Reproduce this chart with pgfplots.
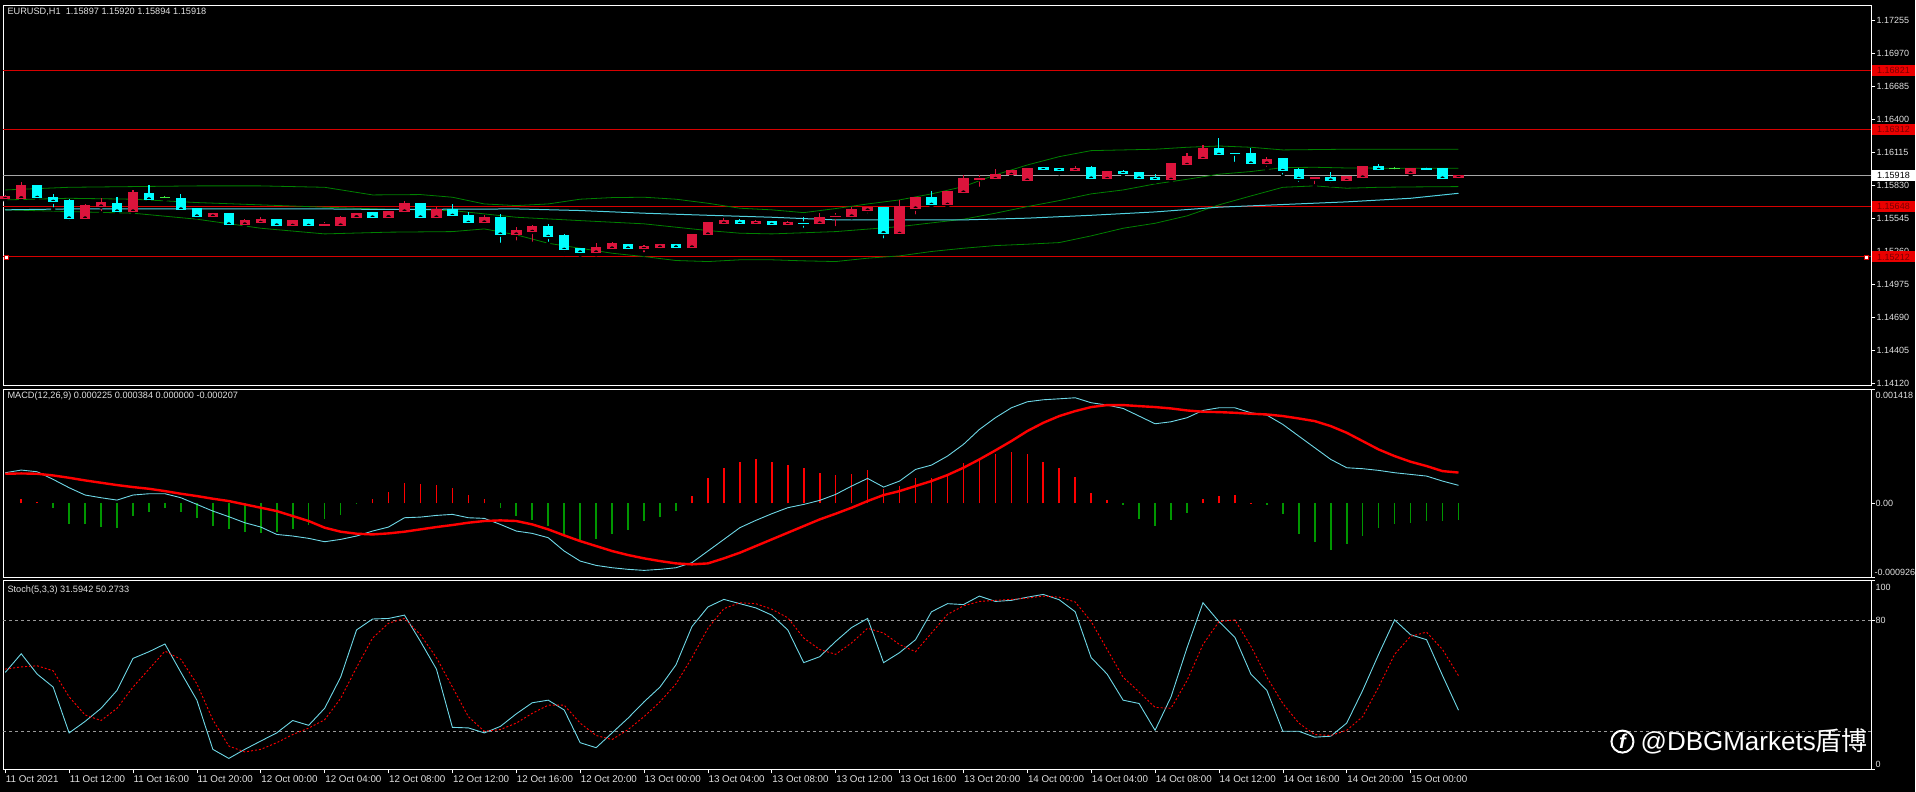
\documentclass[border=0pt]{standalone}
\usepackage{pgfplots}
\pgfplotsset{compat=1.18}
\usepackage{pgfplotstable}
\usetikzlibrary{calc}
\usepackage{fontspec}
\setmainfont{Liberation Sans}
\newfontfamily\cjk{Noto Sans CJK SC}
\definecolor{bull}{RGB}{220,20,60}
\definecolor{bear}{RGB}{0,255,255}
\definecolor{doji}{RGB}{60,230,60}
\definecolor{band}{RGB}{0,128,0}
\definecolor{ma}{RGB}{80,210,225}
\definecolor{hline}{RGB}{215,0,0}
\definecolor{lbl}{RGB}{225,225,225}
\definecolor{macdc}{RGB}{110,215,230}
\definecolor{histr}{RGB}{255,0,0}
\definecolor{histg}{RGB}{0,150,0}
\definecolor{boxred}{RGB}{235,0,0}
\definecolor{boxtxt}{RGB}{120,0,0}
\tikzset{rlab/.style={text=lbl, font=\fontsize{9}{10}\selectfont, inner sep=1pt}}

\pgfplotstableread{
x o h l c
0 1.15714 1.15748 1.15705 1.15737
1 1.15719 1.15863 1.15705 1.15826
5 1.15544 1.15667 1.15526 1.15659
6 1.15647 1.15722 1.15590 1.15679
8 1.15604 1.15791 1.15595 1.15765
13 1.15561 1.15595 1.15555 1.15590
15 1.15492 1.15541 1.15483 1.15523
16 1.15506 1.15555 1.15489 1.15535
18 1.15480 1.15532 1.15469 1.15523
20 1.15486 1.15518 1.15460 1.15492
21 1.15483 1.15567 1.15477 1.15555
22 1.15555 1.15595 1.15547 1.15590
24 1.15555 1.15613 1.15549 1.15607
25 1.15604 1.15696 1.15598 1.15676
27 1.15552 1.15647 1.15547 1.15619
30 1.15509 1.15575 1.15486 1.15555
32 1.15405 1.15469 1.15336 1.15437
33 1.15428 1.15486 1.15325 1.15477
37 1.15250 1.15336 1.15235 1.15290
38 1.15284 1.15342 1.15279 1.15325
40 1.15287 1.15316 1.15235 1.15302
41 1.15293 1.15325 1.15287 1.15316
43 1.15293 1.15414 1.15287 1.15408
44 1.15405 1.15512 1.15394 1.15506
45 1.15500 1.15547 1.15495 1.15523
47 1.15498 1.15529 1.15492 1.15521
49 1.15489 1.15523 1.15460 1.15506
51 1.15500 1.15593 1.15480 1.15555
52 1.15558 1.15595 1.15460 1.15564
53 1.15561 1.15647 1.15555 1.15619
54 1.15613 1.15644 1.15570 1.15639
56 1.15411 1.15705 1.15394 1.15647
57 1.15630 1.15734 1.15561 1.15728
59 1.15662 1.15783 1.15656 1.15774
60 1.15768 1.15918 1.15762 1.15886
61 1.15883 1.15921 1.15800 1.15889
62 1.15886 1.15970 1.15872 1.15927
63 1.15921 1.15961 1.15906 1.15955
64 1.15872 1.15984 1.15866 1.15978
67 1.15955 1.16002 1.15950 1.15978
69 1.15886 1.15953 1.15878 1.15947
73 1.15878 1.16022 1.15872 1.16016
74 1.16007 1.16108 1.15993 1.16076
75 1.16059 1.16180 1.16053 1.16151
79 1.16019 1.16079 1.15973 1.16056
82 1.15889 1.15906 1.15823 1.15901
84 1.15869 1.15915 1.15835 1.15904
85 1.15898 1.15993 1.15892 1.15990
88 1.15932 1.15984 1.15909 1.15973
91 1.15897 1.15920 1.15894 1.15918
}\bulltab

\pgfplotstableread{
x o h l c
2 1.15826 1.15835 1.15699 1.15722
3 1.15728 1.15757 1.15624 1.15688
4 1.15696 1.15711 1.15509 1.15544
7 1.15676 1.15728 1.15584 1.15604
9 1.15762 1.15835 1.15705 1.15708
11 1.15714 1.15757 1.15613 1.15622
12 1.15627 1.15639 1.15555 1.15561
14 1.15590 1.15595 1.15489 1.15492
17 1.15532 1.15541 1.15474 1.15483
19 1.15532 1.15538 1.15457 1.15480
23 1.15593 1.15598 1.15544 1.15552
26 1.15676 1.15682 1.15544 1.15552
28 1.15622 1.15667 1.15561 1.15567
29 1.15572 1.15604 1.15498 1.15506
31 1.15555 1.15581 1.15316 1.15405
34 1.15477 1.15498 1.15325 1.15385
35 1.15394 1.15408 1.15238 1.15273
36 1.15282 1.15290 1.15232 1.15250
39 1.15322 1.15328 1.15279 1.15284
42 1.15316 1.15319 1.15290 1.15293
46 1.15523 1.15538 1.15492 1.15498
48 1.15521 1.15526 1.15460 1.15489
50 1.15503 1.15555 1.15446 1.15500
55 1.15636 1.15641 1.15354 1.15417
58 1.15728 1.15783 1.15656 1.15662
65 1.15981 1.15993 1.15950 1.15964
66 1.15973 1.15978 1.15935 1.15955
68 1.15981 1.16002 1.15883 1.15889
70 1.15947 1.15964 1.15906 1.15932
71 1.15938 1.15944 1.15883 1.15889
72 1.15898 1.15927 1.15863 1.15878
76 1.16151 1.16243 1.16079 1.16094
77 1.16108 1.16122 1.16016 1.16105
78 1.16102 1.16151 1.16013 1.16019
80 1.16059 1.16071 1.15906 1.15955
81 1.15964 1.15978 1.15843 1.15886
83 1.15901 1.15947 1.15835 1.15872
86 1.15990 1.16016 1.15947 1.15964
89 1.15973 1.15993 1.15947 1.15967
90 1.15976 1.15981 1.15883 1.15889
}\beartab

\pgfplotstableread{
x o h l c
10 1.15722 1.15742 1.15705 1.15722
87 1.15973 1.15993 1.15950 1.15973
}\dojitab

\pgfplotstableread{
x macd signal
0 0.000382 0.000369
1 0.000415 0.000373
2 0.000394 0.000369
3 0.000299 0.000348
4 0.000195 0.000319
5 0.000104 0.000286
6 0.000070 0.000257
7 0.000041 0.000228
8 0.000104 0.000203
9 0.000120 0.000182
10 0.000120 0.000153
11 0.000070 0.000120
12 -0.000013 0.000091
13 -0.000096 0.000058
14 -0.000166 0.000029
15 -0.000241 -0.000013
16 -0.000295 -0.000054
17 -0.000387 -0.000096
18 -0.000407 -0.000158
19 -0.000436 -0.000220
20 -0.000478 -0.000303
21 -0.000449 -0.000353
22 -0.000407 -0.000378
23 -0.000345 -0.000387
24 -0.000295 -0.000374
25 -0.000179 -0.000353
26 -0.000171 -0.000324
27 -0.000150 -0.000295
28 -0.000137 -0.000270
29 -0.000179 -0.000241
30 -0.000187 -0.000220
31 -0.000262 -0.000212
32 -0.000345 -0.000220
33 -0.000374 -0.000262
34 -0.000428 -0.000324
35 -0.000594 -0.000399
36 -0.000719 -0.000470
37 -0.000773 -0.000532
38 -0.000802 -0.000594
39 -0.000822 -0.000644
40 -0.000835 -0.000685
41 -0.000822 -0.000719
42 -0.000802 -0.000748
43 -0.000739 -0.000760
44 -0.000594 -0.000748
45 -0.000449 -0.000685
46 -0.000303 -0.000615
47 -0.000212 -0.000532
48 -0.000129 -0.000449
49 -0.000054 -0.000366
50 -0.000013 -0.000283
51 0.000037 -0.000200
52 0.000112 -0.000129
53 0.000216 -0.000054
54 0.000311 0.000029
55 0.000203 0.000104
56 0.000278 0.000153
57 0.000423 0.000216
58 0.000477 0.000278
59 0.000589 0.000353
60 0.000735 0.000444
61 0.000921 0.000548
62 0.001067 0.000660
63 0.001191 0.000776
64 0.001266 0.000901
65 0.001291 0.001004
66 0.001303 0.001088
67 0.001316 0.001150
68 0.001254 0.001200
69 0.001225 0.001225
70 0.001183 0.001225
71 0.001088 0.001212
72 0.000992 0.001200
73 0.001017 0.001183
74 0.001067 0.001158
75 0.001158 0.001142
76 0.001191 0.001137
77 0.001191 0.001129
78 0.001129 0.001117
79 0.001100 0.001108
80 0.000984 0.001088
81 0.000838 0.001058
82 0.000693 0.001025
83 0.000548 0.000963
84 0.000444 0.000880
85 0.000432 0.000776
86 0.000411 0.000672
87 0.000382 0.000589
88 0.000361 0.000519
89 0.000340 0.000465
90 0.000278 0.000402
91 0.000225 0.000384
}\macdtab

\pgfplotstableread{
x k d
0 52.0 53.8
1 62.1 55.0
2 51.1 55.6
3 44.1 52.9
4 19.3 38.8
5 25.5 29.0
6 32.6 26.0
7 42.3 32.6
8 59.6 44.1
9 63.2 53.8
10 67.4 63.5
11 52.0 59.1
12 37.0 45.8
13 10.4 26.4
14 5.5 12.2
15 10.4 9.0
16 14.9 10.4
17 19.3 14.0
18 26.0 18.4
19 23.4 21.9
20 32.6 26.4
21 49.4 37.9
22 75.0 54.7
23 80.9 70.6
24 81.2 78.6
25 83.0 81.2
26 68.8 72.4
27 53.8 60.0
28 22.3 44.1
29 22.0 28.1
30 19.3 20.2
31 22.8 21.1
32 29.6 24.6
33 35.6 29.9
34 37.0 34.3
35 31.7 34.3
36 14.0 24.6
37 11.3 17.9
38 19.3 15.7
39 27.3 21.1
40 36.1 28.1
41 44.1 36.1
42 56.1 45.8
43 76.8 60.0
44 87.4 75.9
45 91.5 86.5
46 89.2 89.7
47 86.9 89.2
48 83.0 86.2
49 75.0 81.6
50 57.3 70.6
51 60.5 64.4
52 68.8 61.8
53 76.3 68.0
54 81.2 75.9
55 57.3 73.3
56 62.7 67.1
57 69.7 63.2
58 84.8 73.3
59 89.2 83.4
60 88.7 88.0
61 93.3 90.4
62 90.4 91.0
63 91.0 91.5
64 92.7 92.2
65 94.2 93.3
66 91.3 92.7
67 84.8 90.1
68 60.0 79.5
69 51.1 64.4
70 37.0 49.4
71 35.2 41.4
72 20.7 33.1
73 38.8 32.6
74 65.3 47.6
75 89.7 67.1
76 79.5 79.5
77 71.0 80.4
78 51.1 66.2
79 42.3 49.4
80 20.2 35.2
81 20.2 24.6
82 17.0 18.4
83 17.5 17.9
84 24.6 20.7
85 42.3 28.1
86 61.8 44.1
87 80.4 61.8
88 72.4 71.5
89 69.7 73.8
90 50.3 64.4
91 31.59 50.27
}\stochtab

\pgfplotsset{
  panel/.style={
    scale only axis,
    xmin=-0.12, xmax=116.85,
    axis line style={white, line width=0.8pt},
    tick style={white, line width=0.6pt},
    tick align=outside, major tick length=4pt,
    ytick pos=right, yticklabel pos=right,
    xtick=\empty,
    scaled y ticks=false, scaled x ticks=false,
    clip=false,
    yticklabel style={font=\fontsize{9}{10}\selectfont, text=lbl, inner sep=1pt},
  },
  wick/.style={only marks, mark=none, forget plot, error bars/.cd, y dir=plus, y explicit, error mark=none, error bar style={line width=1.1pt, draw=#1}},
  body/.style={only marks, mark=none, forget plot, error bars/.cd, y dir=plus, y explicit, error mark=none, error bar style={line width=10.5pt, draw=#1}},
  edge/.style={only marks, mark=-, mark size=5.25pt, forget plot, mark options={line width=1pt, draw=#1}},
}

\begin{document}
\begin{tikzpicture}
\fill[black] (0pt,0pt) rectangle (1916pt,792pt);

% ---------------- main price panel ----------------
\begin{axis}[panel, name=mainax, at={(3pt,406pt)}, anchor=south west, width=1869pt, height=381pt,
  ymin=1.14098, ymax=1.17390,
  ytick={1.17255,1.16970,1.16685,1.16400,1.16115,1.15830,1.15545,1.15260,1.14975,1.14690,1.14405,1.14120},
  yticklabels={1.17255,1.16970,1.16685,1.16400,1.16115,1.15830,1.15545,1.15260,1.14975,1.14690,1.14405,1.14120}]
\addplot[hline, line width=1pt] coordinates {(-0.12,1.16821) (116.85,1.16821)};
\addplot[hline, line width=1pt] coordinates {(-0.12,1.16312) (116.85,1.16312)};
\addplot[hline, line width=1pt] coordinates {(-0.12,1.15648) (116.85,1.15648)};
\addplot[hline, line width=1pt] coordinates {(-0.12,1.15212) (116.85,1.15212)};
\addplot[gray!70, line width=0.9pt] coordinates {(-0.12,1.15918) (116.85,1.15918)};
\addplot[band, line width=0.8pt] coordinates {(0,1.15791) (4,1.15814) (8,1.15820) (12,1.15826) (16,1.15826) (20,1.15814) (23,1.15748) (26,1.15751) (28,1.15728) (30,1.15670) (32,1.15656) (34,1.15670) (36,1.15711) (38,1.15725) (40,1.15728) (42,1.15711) (44,1.15676) (46,1.15633) (48,1.15619) (50,1.15595) (52,1.15630) (54,1.15670) (56,1.15705) (58,1.15757) (60,1.15820) (62,1.15921) (64,1.16007) (66,1.16079) (68,1.16131) (70,1.16137) (72,1.16143) (74,1.16160) (76,1.16171) (78,1.16160) (80,1.16137) (84,1.16143) (88,1.16143) (91,1.16143)};
\addplot[band, line width=0.8pt] coordinates {(0,1.15705) (4,1.15719) (8,1.15711) (12,1.15682) (16,1.15662) (20,1.15642) (24,1.15624) (28,1.15613) (32,1.15555) (36,1.15526) (40,1.15498) (44,1.15440) (46,1.15417) (48,1.15411) (52,1.15431) (56,1.15474) (60,1.15538) (62,1.15590) (64,1.15647) (66,1.15699) (68,1.15757) (70,1.15791) (72,1.15843) (74,1.15883) (76,1.15927) (78,1.15950) (80,1.15984) (82,1.15987) (84,1.15981) (88,1.15978) (91,1.15978)};
\addplot[band, line width=0.8pt] coordinates {(0,1.15619) (4,1.15604) (8,1.15590) (12,1.15538) (16,1.15460) (20,1.15411) (24,1.15426) (28,1.15431) (30,1.15454) (32,1.15403) (34,1.15330) (36,1.15287) (38,1.15244) (40,1.15215) (42,1.15181) (44,1.15172) (46,1.15187) (48,1.15187) (50,1.15178) (52,1.15172) (54,1.15201) (56,1.15221) (58,1.15259) (60,1.15287) (62,1.15310) (64,1.15322) (66,1.15336) (68,1.15394) (70,1.15460) (72,1.15503) (74,1.15567) (76,1.15662) (78,1.15739) (80,1.15814) (82,1.15826) (84,1.15806) (86,1.15814) (88,1.15817) (91,1.15820)};
\addplot[ma, line width=1pt] coordinates {(0,1.15619) (4,1.15627) (20,1.15627) (24,1.15622) (32,1.15627) (36,1.15613) (40,1.15590) (44,1.15572) (48,1.15555) (52,1.15532) (60,1.15532) (64,1.15547) (68,1.15572) (72,1.15601) (76,1.15642) (80,1.15665) (84,1.15688) (88,1.15719) (91,1.15762)};
\addplot[wick=bull] table[x=x, y=l, y error plus expr=\thisrow{h}-\thisrow{l}] {\bulltab};
\addplot[wick=bear] table[x=x, y=l, y error plus expr=\thisrow{h}-\thisrow{l}] {\beartab};
\addplot[wick=doji] table[x=x, y=l, y error plus expr=\thisrow{h}-\thisrow{l}] {\dojitab};
\addplot[body=bull] table[x=x, y=o, y error plus expr=\thisrow{c}-\thisrow{o}] {\bulltab};
\addplot[body=bear] table[x=x, y=c, y error plus expr=\thisrow{o}-\thisrow{c}] {\beartab};
\addplot[edge=bull] table[x=x, y=o] {\bulltab};
\addplot[edge=bull] table[x=x, y=c] {\bulltab};
\addplot[edge=bear] table[x=x, y=o] {\beartab};
\addplot[edge=bear] table[x=x, y=c] {\beartab};
\addplot[edge=doji] table[x=x, y=c] {\dojitab};
\addplot[only marks, mark=square*, mark size=2pt, mark options={fill=white, draw=hline}] coordinates {(0.05,1.15212) (116.5,1.15212)};
\coordinate (L1) at (axis cs:116.85,1.16821);
\coordinate (L2) at (axis cs:116.85,1.16312);
\coordinate (L3) at (axis cs:116.85,1.15648);
\coordinate (L4) at (axis cs:116.85,1.15212);
\coordinate (LB) at (axis cs:116.85,1.15918);
\end{axis}

\foreach \c/\t in {L1/1.16821, L2/1.16312, L3/1.15648, L4/1.15212}{
  \node[anchor=west, fill=boxred, text=boxtxt, minimum width=43pt, minimum height=11pt, inner sep=0pt,
        font=\fontsize{9}{10}\selectfont] at ([xshift=0.5pt]\c) {\t};
}
\node[anchor=west, fill=white, text=black, minimum width=43pt, minimum height=11pt, inner sep=0pt,
      font=\fontsize{9}{10}\selectfont] at ([xshift=0.5pt]LB) {1.15918};

\node[anchor=west, text=lbl, font=\fontsize{9.2}{10}\selectfont, inner sep=0pt] at (7pt,780pt)
  {EURUSD,H1\ \ 1.15897 1.15920 1.15894 1.15918};

% ---------------- MACD panel ----------------
\begin{axis}[panel, name=macdax, at={(3pt,214pt)}, anchor=south west, width=1869pt, height=188.2pt,
  ymin=-0.000926, ymax=0.001418, ytick=\empty]
\addplot[ycomb, histr, line width=1.6pt, mark=none] coordinates {(1,0.000058) (2,0.000016) (23,0.000058) (24,0.000141) (25,0.000257) (26,0.000236) (27,0.000228) (28,0.000195) (29,0.000099) (30,0.000050) (43,0.000091) (44,0.000319) (45,0.000444) (46,0.000519) (47,0.000548) (48,0.000519) (49,0.000477) (50,0.000444) (51,0.000382) (52,0.000353) (53,0.000369) (54,0.000411) (55,0.000174) (56,0.000216) (57,0.000311) (58,0.000319) (59,0.000369) (60,0.000506) (61,0.000569) (62,0.000610) (63,0.000643) (64,0.000610) (65,0.000519) (66,0.000444) (67,0.000328) (68,0.000133) (69,0.000037) (75,0.000050) (76,0.000091) (77,0.000099) (78,0.000008)};
\addplot[ycomb, histg, line width=1.6pt, mark=none] coordinates {(3,-0.000054) (4,-0.000254) (5,-0.000262) (6,-0.000295) (7,-0.000303) (8,-0.000158) (9,-0.000104) (10,-0.000063) (11,-0.000104) (12,-0.000179) (13,-0.000283) (14,-0.000324) (15,-0.000353) (16,-0.000366) (17,-0.000357) (18,-0.000324) (19,-0.000270) (20,-0.000200) (21,-0.000146) (22,-0.000013) (31,-0.000063) (32,-0.000158) (33,-0.000212) (34,-0.000283) (35,-0.000407) (36,-0.000478) (37,-0.000449) (38,-0.000387) (39,-0.000337) (40,-0.000220) (41,-0.000171) (42,-0.000096) (70,-0.000021) (71,-0.000200) (72,-0.000283) (73,-0.000212) (74,-0.000117) (79,-0.000021) (80,-0.000129) (81,-0.000378) (82,-0.000478) (83,-0.000586) (84,-0.000511) (85,-0.000407) (86,-0.000303) (87,-0.000253) (88,-0.000241) (89,-0.000220) (90,-0.000220) (91,-0.000207)};
\addplot[macdc, line width=0.9pt] table[x=x, y=macd] {\macdtab};
\addplot[red, line width=2.4pt] table[x=x, y=signal] {\macdtab};
\draw[white, line width=0.6pt] (rel axis cs:1,1) -- ++(4pt,0pt);
\draw[white, line width=0.6pt] (axis cs:116.85,0) -- ++(4pt,0pt);
\draw[white, line width=0.6pt] (rel axis cs:1,0) -- ++(4pt,0pt);
\end{axis}
\node[rlab, anchor=north west] at ([xshift=3pt,yshift=-1pt]macdax.north east) {0.001418};
\node[rlab, anchor=south west] at ([xshift=2pt,yshift=1pt]macdax.south east) {-0.000926};
\node[rlab, anchor=west] at ($(macdax.south east)!0.395!(macdax.north east)+(3pt,0pt)$) {0.00};
\node[anchor=west, text=lbl, font=\fontsize{9.2}{10}\selectfont, inner sep=0pt] at (7pt,396pt)
  {MACD(12,26,9) 0.000225 0.000384 0.000000 -0.000207};

% ---------------- Stochastic panel ----------------
\begin{axis}[panel, name=stochax, at={(3pt,22.2pt)}, anchor=south west, width=1869pt, height=189.4pt,
  ymin=-0.43, ymax=101.95, ytick=\empty,
  xtick={0,4,...,88}, xtick pos=left,
  xticklabels={11 Oct 2021,11 Oct 12:00,11 Oct 16:00,11 Oct 20:00,12 Oct 00:00,12 Oct 04:00,12 Oct 08:00,12 Oct 12:00,12 Oct 16:00,12 Oct 20:00,13 Oct 00:00,13 Oct 04:00,13 Oct 08:00,13 Oct 12:00,13 Oct 16:00,13 Oct 20:00,14 Oct 00:00,14 Oct 04:00,14 Oct 08:00,14 Oct 12:00,14 Oct 16:00,14 Oct 20:00,15 Oct 00:00},
  xticklabel style={font=\fontsize{9.8}{10}\selectfont, text=lbl, anchor=north west, inner sep=0pt, yshift=-2pt, xshift=0.5pt}]
\addplot[gray!80, line width=0.7pt, dash pattern=on 3pt off 3pt] coordinates {(-0.12,80) (116.85,80)};
\addplot[gray!80, line width=0.7pt, dash pattern=on 3pt off 3pt] coordinates {(-0.12,20) (116.85,20)};
\addplot[macdc, line width=0.9pt] table[x=x, y=k] {\stochtab};
\addplot[red, line width=0.9pt, dash pattern=on 2pt off 2pt] table[x=x, y=d] {\stochtab};
\draw[white, line width=0.6pt] (rel axis cs:1,1) -- ++(4pt,0pt);
\draw[white, line width=0.6pt] (axis cs:116.85,80) -- ++(4pt,0pt);
\draw[white, line width=0.6pt] (rel axis cs:1,0) -- ++(4pt,0pt);
\end{axis}
\node[rlab, anchor=north west] at ([xshift=3pt,yshift=-3pt]stochax.north east) {100};
\node[rlab, anchor=south west] at ([xshift=3pt,yshift=1pt]stochax.south east) {0};
\node[rlab, anchor=west] at ($(stochax.south east)!0.7855!(stochax.north east)+(3pt,0pt)$) {80};
\node[anchor=west, text=lbl, font=\fontsize{9.2}{10}\selectfont, inner sep=0pt] at (7pt,202pt)
  {Stoch(5,3,3) 31.5942 50.2733};

\node[circle, draw=white, line width=2pt, minimum size=22pt, inner sep=0pt, text=white,
      font=\fontsize{20}{20}\selectfont\bfseries\itshape] at (1623pt,50pt) {f};
\node[anchor=west, text=white, font=\fontsize{26}{28}\selectfont, inner sep=0pt] at (1641pt,50pt)
  {@DBGMarkets{\cjk 盾博}};
\end{tikzpicture}
\end{document}
